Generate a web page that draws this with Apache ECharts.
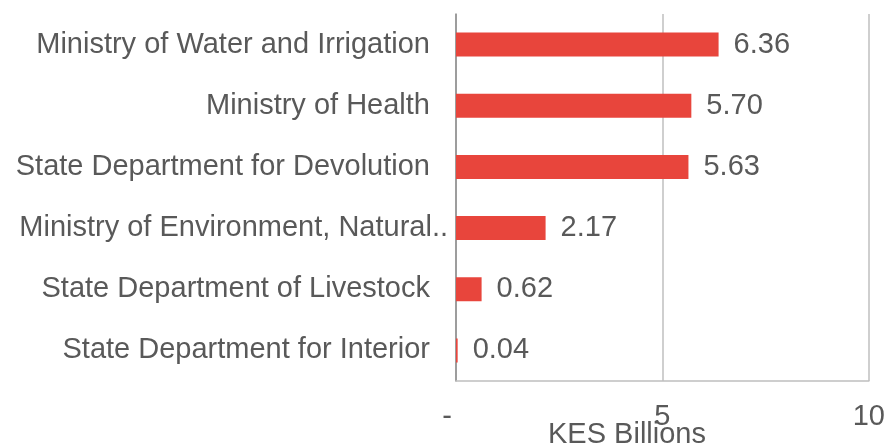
<!DOCTYPE html>
<html><head><meta charset="utf-8">
<script src="https://cdn.jsdelivr.net/npm/echarts@6/dist/echarts.min.js"></script>
<style>html,body{margin:0;padding:0;background:#fff}#c{width:888px;height:445px}</style>
</head><body><div id="c"></div>
<script>
const categories = ["Ministry of Water and Irrigation","Ministry of Health","State Department for Devolution","Ministry of Environment, Natural..","State Department of Livestock","State Department for Interior"];
const values = [6.36, 5.70, 5.63, 2.17, 0.62, 0.04];
const axisName = "KES Billions";
const chart = echarts.init(document.getElementById('c'));
const font = 'Liberation Sans, Arial, sans-serif';
const fs = 29;
chart.setOption({
  animation:false,
  grid:{left:456,right:16,top:14,bottom:64,containLabel:false},
  xAxis:{type:'value',min:0,max:10,interval:5,
    axisLine:{show:true,lineStyle:{color:'#bfbfbf',width:1.5}},
    axisTick:{show:false},
    splitLine:{show:true,lineStyle:{color:'#bfbfbf',width:1.5}},
    axisLabel:{color:'#595959',fontFamily:font,fontSize:fs,margin:21,
      formatter:v=>v===0?'{d|-}':String(v),rich:{d:{color:'#595959',fontFamily:font,fontSize:fs,padding:[0,18,0,0]}}}
  },
  yAxis:{type:'category',data:categories,inverse:true,
    axisLine:{show:true,lineStyle:{color:'#8c8c8c',width:1.5}},
    axisTick:{show:false},
    axisLabel:{color:'#595959',fontFamily:font,fontSize:fs,margin:26,
      formatter:v=>v.endsWith('..')?'{t|'+v+'}':v,
      rich:{t:{color:'#595959',fontFamily:font,fontSize:fs,padding:[0,-18,0,0]}}}
  },
  graphic:[{type:'text',x:627,y:435,style:{text:axisName,fill:'#595959',font:fs+'px '+font,textAlign:'center',textVerticalAlign:'middle'}}],
  series:[{type:'bar',data:values,barWidth:24,itemStyle:{color:'#E8453C'},
    label:{show:true,position:'right',distance:15,color:'#595959',fontFamily:font,fontSize:fs,formatter:p=>p.value.toFixed(2)}}]
});
</script></body></html>
